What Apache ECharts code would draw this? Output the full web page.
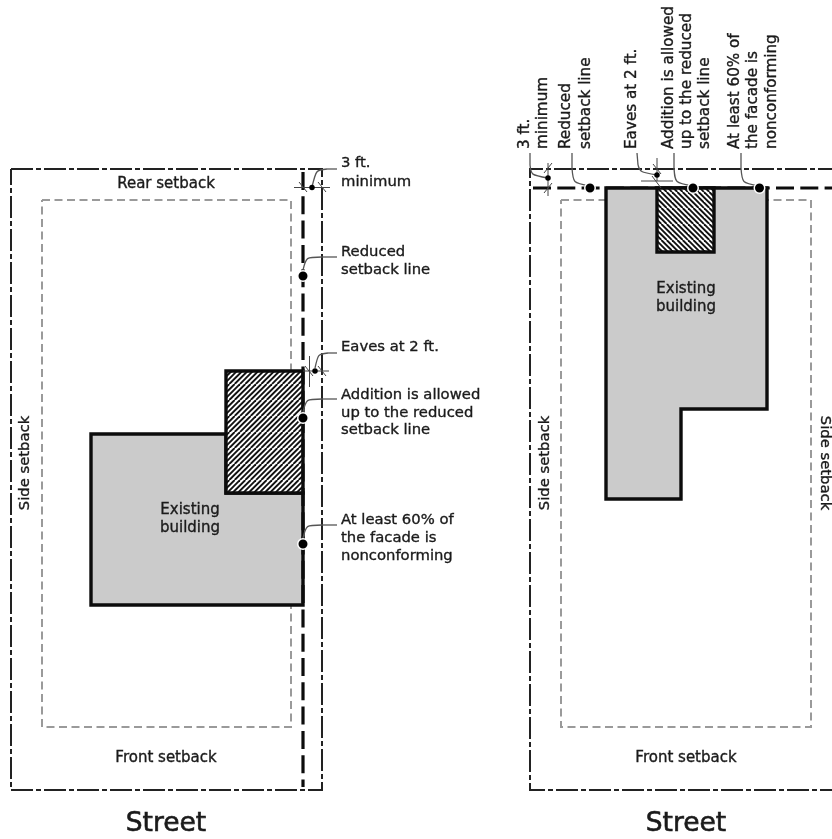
<!DOCTYPE html>
<html>
<head>
<meta charset="utf-8">
<style>html,body{margin:0;padding:0;background:#fff}#c{width:832px;height:839px}</style>
<script src="https://cdn.jsdelivr.net/npm/echarts@6/dist/echarts.min.js"></script>
</head>
<body>
<div id="c"></div>
<script>
// ---- Plan geometry, in plan units of the drawing ----
const leftOuter = [[11,169],[322,169],[322,790],[11,790],[11,169]];
const leftSetback = [[42,200],[291,200],[291,727],[42,727],[42,200]];
const leftReduced = [[303,172],[303,787]];
const leftBuilding = [[91,434],[226,434],[226,493],[303,493],[303,605],[91,605]];
const leftAddition = [[226,371],[303,371],[303,493],[226,493]];
const rightOuter = [[840,169],[530,169],[530,790],[840,790]];
const rightSetback = [[561,200],[811,200],[811,727],[561,727],[561,200]];
const rightReduced = [[533,188],[840,188]];
const rightBuilding = [[606,188],[767,188],[767,409],[681,409],[681,499],[606,499]];
const rightAddition = [[657,188],[714,188],[714,252],[657,252]];
const bigDots = [[303,276],[303,418],[303,544],[590,188],[693,188],[759.5,188]];
const smallDots = [[312,187.5],[315,371],[548,178],[657,175]];
// thin dimension lines and their slashes
const dimensionLines = [
  [[294,187.5],[330,187.5]],[[299,182],[307,192]],[[318,182],[326,192]],
  [[303,371],[329,371]],[[309.5,356],[309.5,387]],[[305,366],[313,376]],[[318,366],[326,376]],
  [[548,163],[548,196]],[[544,173],[552,163]],[[544,193],[552,183]],
  [[641,181],[673,181]],[[657,158],[657,181]],[[653,164],[661,174]],[[652,176],[661,188]]
];
// leaders: start, control, bend, end
const leaders = [
  [[312,187],[316,170],[327,169],[337,169]],
  [[303,270],[306,257],[322,257],[337,257]],
  [[303,412],[306,399],[322,399],[337,399]],
  [[315,368],[318,354],[328,353],[337,353]],
  [[303,538],[306,525],[322,525],[337,525]],
  [[548,178],[531,175],[530,165],[530,153]],
  [[590,186],[573,183],[572,168],[572,153]],
  [[657,175],[640,172],[638,165],[637,153]],
  [[693,186],[675,183],[674,168],[674,153]],
  [[759,186],[742,183],[741,168],[741,153]]
];
// ---- Text ----
const plainLabels = [
  ['Rear setback',166,184],['Front setback',166,758],['Existing',190,510],['building',190,528],
  ['Existing',686,289],['building',686,307],['Front setback',686,758]
];
const sideUpLabels = [['Side setback',25,463],['Side setback',545,463]];
const sideDownLabels = [['Side setback',825,463]];
const streetLabels = [['Street',166,824],['Street',686,824]];
const noteLabels = [
  ['3 ft.',341,163],['minimum',341,182],['Reduced',341,252],['setback line',341,270],
  ['Eaves at 2 ft.',341,347],['Addition is allowed',341,395],['up to the reduced',341,413],
  ['setback line',341,430],['At least 60% of',341,520],['the facade is',341,538],['nonconforming',341,556]
];
const noteUpLabels = [
  ['3 ft.',525,149],['minimum',543,149],['Reduced',566,149],['setback line',586,149],
  ['Eaves at 2 ft.',632,149],['Addition is allowed',669,149],['up to the reduced',687,149],
  ['setback line',705,149],['At least 60% of',735,149],['the facade is',753,149],['nonconforming',772,149]
];

const FONT = '"DejaVu Sans"';
const INK = '#1a1a1a';

function hatch(dir){
  const p = 16, cv = document.createElement('canvas');
  cv.width = cv.height = p;
  const g = cv.getContext('2d');
  g.fillStyle = '#fff'; g.fillRect(0,0,p,p);
  g.strokeStyle = '#111'; g.lineWidth = 1.9;
  for (let k = -3; k <= 3; k++) {
    const o = k * p / 3;
    g.beginPath();
    if (dir > 0) { g.moveTo(o, p); g.lineTo(o + p, 0); }
    else { g.moveTo(o, 0); g.lineTo(o + p, p); }
    g.stroke();
  }
  return cv;
}
function lineOf(data, width, color, dash, z){
  return {type:'line', data, z: z||2, silent:true, showSymbol:false, symbol:'none', animation:false,
    lineStyle:{width, color, type: dash||'solid', cap:'butt', join:'miter'}};
}
function polygonOf(points, fill, z){
  return {type:'custom', z, silent:true, animation:false, coordinateSystem:'cartesian2d',
    data:[0], renderItem:(p,api)=>({type:'polygon',
      shape:{points:points.map(q=>api.coord(q))},
      style:{fill, stroke:'#0c0c0c', lineWidth:3.4, lineJoin:'miter'}})};
}
function textOf(rows, size, rotation, align, baseline, sw){
  return {type:'custom', z:10, silent:true, animation:false, coordinateSystem:'cartesian2d',
    data:rows.map(r=>[r[1],r[2],r[0]]),
    renderItem:(p,api)=>{
      const c = api.coord([api.value(0),api.value(1)]);
      return {type:'text', x:c[0], y:c[1], rotation,
        style:{text:rows[p.dataIndex][0], x:0, y:0, align, verticalAlign:baseline,
          fill:INK, stroke:INK, lineWidth:sw||0.35, font:`${size}px ${FONT}`}};
    }};
}
const option = {
  backgroundColor:'#fff', animation:false,
  grid:{left:0,right:0,top:0,bottom:0},
  xAxis:{type:'value',min:0,max:832,show:false},
  yAxis:{type:'value',min:0,max:839,inverse:true,show:false},
  series:[
    lineOf(leftSetback,2,'#9a9a9a',[8,4.5],1),
    lineOf(rightSetback,2,'#9a9a9a',[8,4.5],1),
    lineOf(leftOuter,2,'#222',[22,3,5,3],2),
    lineOf(rightOuter,2,'#222',[22,3,5,3],2),
    polygonOf(leftBuilding,'#cbcbcb',3),
    polygonOf(rightBuilding,'#cbcbcb',3),
    polygonOf(leftAddition,{image:hatch(1),repeat:'repeat'},4),
    polygonOf(rightAddition,{image:hatch(-1),repeat:'repeat'},4),
    lineOf(leftReduced,3.2,'#0c0c0c',[18,6.3],5),
    lineOf(rightReduced,3.2,'#0c0c0c',[18,6.3],2.5),
    ...dimensionLines.map(l=>lineOf(l,1,'#444',null,6)),
    {type:'custom', z:6, silent:true, animation:false, coordinateSystem:'cartesian2d',
      data:leaders.map((l,i)=>[l[0][0],l[0][1],i]),
      renderItem:(p,api)=>{
        const l = leaders[p.dataIndex].map(q=>api.coord(q));
        return {type:'group',children:[
          {type:'bezierCurve',shape:{x1:l[0][0],y1:l[0][1],cpx1:l[1][0],cpy1:l[1][1],cpx2:l[1][0],cpy2:l[1][1],x2:l[2][0],y2:l[2][1]},
            style:{fill:null,stroke:'#555',lineWidth:1.3}},
          {type:'line',shape:{x1:l[2][0],y1:l[2][1],x2:l[3][0],y2:l[3][1]},
            style:{stroke:'#555',lineWidth:1.3}}
        ]};
      }},
    {type:'scatter',z:7,silent:true,animation:false,data:bigDots,symbolSize:10.5,
      itemStyle:{color:'#000',borderColor:'#fff',borderWidth:1.5,opacity:1}},
    {type:'scatter',z:7,silent:true,animation:false,data:smallDots,symbolSize:5.5,
      itemStyle:{color:'#000',opacity:1}},
    textOf(plainLabels,15,0,'center','middle'),
    textOf(noteLabels,14.8,0,'left','middle'),
    textOf(noteUpLabels,15.2,Math.PI/2,'left','middle'),
    textOf(sideUpLabels,14.8,Math.PI/2,'center','middle'),
    textOf(sideDownLabels,14.8,-Math.PI/2,'center','middle'),
    textOf(streetLabels,26.5,0,'center','middle',0.6)
  ]
};
const chart = echarts.init(document.getElementById('c'),null,{renderer:'canvas'});
chart.setOption(option);
</script>
</body>
</html>
